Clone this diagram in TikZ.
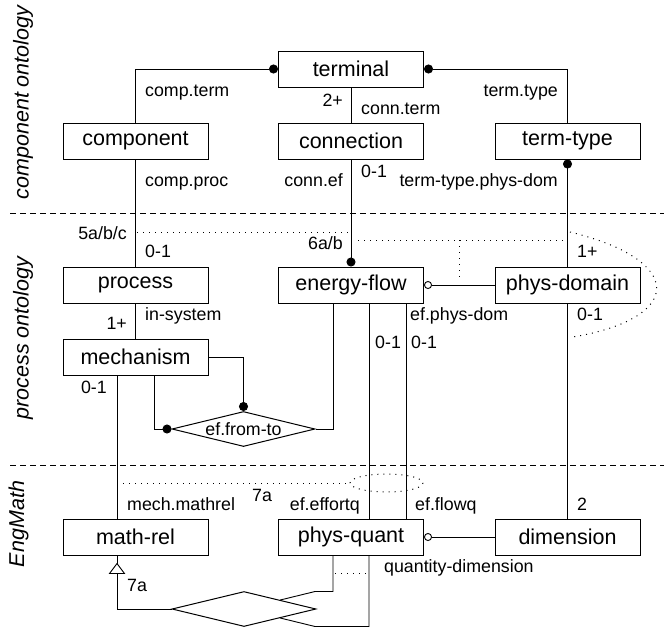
\documentclass[tikz,border=0pt]{standalone}
\usepackage{fontspec}
\setmainfont{Liberation Sans}
\usetikzlibrary{arrows.meta,shapes.geometric,calc}
\newcommand\bxfont{\fontsize{21.5}{24}\selectfont}
\newcommand\lbfont{\fontsize{17.8}{20}\selectfont}
\tikzset{
  box/.style={draw, line width=1pt, fill=white, minimum width=145pt,
    minimum height=36pt, inner sep=0pt, font=\bxfont},
  relbox/.style={draw, line width=1pt, fill=white, shape=diamond,
    minimum width=143pt, minimum height=35pt, aspect=4, inner sep=0pt, font=\lbfont},
  lbl/.style={inner sep=0pt, font=\lbfont},
  layer/.style={inner sep=0pt, rotate=90, font=\bxfont\itshape},
  conn/.style={line width=0.9pt},
  dotline/.style={line width=1pt, dash pattern=on 1pt off 5pt},
  sepline/.style={line width=0.9pt, dash pattern=on 6pt off 4pt},
  fdot/.tip={Circle[length=9pt]},
  odot/.tip={Circle[open,length=8pt,line width=0.9pt]},
}
\begin{document}
\begin{tikzpicture}[x=1pt,y=-1pt]
\useasboundingbox (0,0) rectangle (664,627);

% layer separators and layer titles
\draw[sepline] (10,213) -- (664,213);
\draw[sepline] (10,465) -- (664,465);
\node[layer] (laycomp) at (23,102.5) {component ontology};
\node[layer] (layproc) at (23,338) {process ontology};
\node[layer] (layeng) at (18.5,524) {EngMath};

% concepts
\node[box] (terminal)   at (351,69)    {terminal};
\node[box] (component)  at (135.5,141) {component};
\node[box] (connection) at (351,141)   {connection};
\node[box] (termtype)   at (567.5,141) {term-type};
\node[box] (process)    at (135.5,285) {process};
\node[box] (energyflow) at (351,285)   {energy-flow};
\node[box] (physdomain) at (567.5,285) {phys-domain};
\node[box] (mechanism)  at (135.5,357) {mechanism};
\node[relbox] (fromto)  at (243.5,429) {ef.from-to};
\node[box] (mathrel)    at (135.5,537) {math-rel};
\node[box] (physquant)  at (351,537)   {phys-quant};
\node[box] (dimension)  at (567.5,537) {dimension};
\node[relbox, minimum width=144pt] (qrel) at (244,609) {};

% relations of the component ontology
\draw[conn, {fdot}-] (terminal.west) -| (component.north);
\draw[conn] (terminal.south) -- (connection.north);
\draw[conn, {fdot}-] (terminal.east) -| (termtype.north);
\draw[conn] (component.south) -- (process.north);
\draw[conn, -{fdot}] (connection.south) -- (energyflow.north);
\draw[conn, {fdot}-] (termtype.south) -- (physdomain.north);

% relations of the process ontology
\draw[conn] (process.south) -- (mechanism.north);
\draw[conn, {odot}-] (energyflow.east) -- (physdomain.west);
\draw[conn, -{fdot}] (mechanism.east) -| (fromto.north);
\draw[conn, -{fdot}] ([xshift=18.5pt]mechanism.south) |- (fromto.west);
\draw[conn] ([xshift=-18pt]energyflow.south) |- (fromto.east);
\draw[conn] ([xshift=18pt]energyflow.south) -- ([xshift=18pt]physquant.north);
\draw[conn] ([xshift=55pt]energyflow.south) -- ([xshift=55pt]physquant.north);
\draw[conn] (physdomain.south) -- (dimension.north);
\draw[conn] ([xshift=-18.5pt]mechanism.south) -- ([xshift=-18.5pt]mathrel.north);

% relations of EngMath
\draw[conn, {odot}-] (physquant.east) -- (dimension.west);
\coordinate (mrfoot) at ([xshift=-18.5pt]mathrel.south);
\draw[conn] (qrel.west) -| (mrfoot);
\draw[conn, fill=white] ($(mrfoot)+(0,8)$) -- ++(-7.5,10) -- ++(15,0) -- cycle;
\draw[conn] ([xshift=-18pt]physquant.south) -- ++(0,36) -- ++(-18,0)
  -- ($(qrel.north)!0.5!(qrel.east)$);
\draw[conn] ([xshift=18pt]physquant.south) -- ++(0,71) -- ++(-54,0)
  -- ($(qrel.south)!0.5!(qrel.east)$);

% constraint marks
\draw[dotline] (137,232) -- (348,232);
\draw[dotline] (358,240) -- (565,240);
\draw[dotline] (459,240) -- (459,281);
\draw[dotline] (570,232) .. controls (685,260) and (685,318) .. (573,337);
\draw[dotline] (117,483) -- (350,483);
\draw[dotline] (386.5,483) ellipse [x radius=36.5, y radius=9];
\draw[dotline] (335,573) -- (367,573);

% role names and cardinalities
\node[lbl, anchor=base west] (t1)  at (145,96.5)  {comp.term};
\node[lbl, anchor=base east] (t2)  at (343,106)   {2+};
\node[lbl, anchor=base west] (t3)  at (361,114)   {conn.term};
\node[lbl, anchor=base east] (t4)  at (558,96.5)  {term.type};
\node[lbl, anchor=base west] (t5)  at (145,186)   {comp.proc};
\node[lbl, anchor=base east] (t6)  at (343,186)   {conn.ef};
\node[lbl, anchor=base west] (t7)  at (361,177)   {0-1};
\node[lbl, anchor=base east] (t8)  at (558,186)   {term-type.phys-dom};
\node[lbl, anchor=base east] (t9)  at (127,239)   {5a/b/c};
\node[lbl, anchor=base west] (t10) at (145,257)   {0-1};
\node[lbl, anchor=base east] (t11) at (343,249)   {6a/b};
\node[lbl, anchor=base west] (t12) at (577,257)   {1+};
\node[lbl, anchor=base west] (t13) at (145,320)   {in-system};
\node[lbl, anchor=base east] (t14) at (127,329)   {1+};
\node[lbl, anchor=base west] (t15) at (410,320)   {ef.phys-dom};
\node[lbl, anchor=base west] (t16) at (577,320)   {0-1};
\node[lbl, anchor=base west] (t17) at (375,348)   {0-1};
\node[lbl, anchor=base west] (t18) at (411,348)   {0-1};
\node[lbl, anchor=base east] (t19) at (107,393)   {0-1};
\node[lbl, anchor=base west] (t20) at (127,510)   {mech.mathrel};
\node[lbl, anchor=base west] (t21) at (252,501)   {7a};
\node[lbl, anchor=base east] (t22) at (360,510)   {ef.effortq};
\node[lbl, anchor=base west] (t23) at (415,510)   {ef.flowq};
\node[lbl, anchor=base west] (t24) at (577,510)   {2};
\node[lbl, anchor=base west] (t25) at (384,572)   {quantity-dimension};
\node[lbl, anchor=base west] (t26) at (127,591.5) {7a};
\end{tikzpicture}
\end{document}
